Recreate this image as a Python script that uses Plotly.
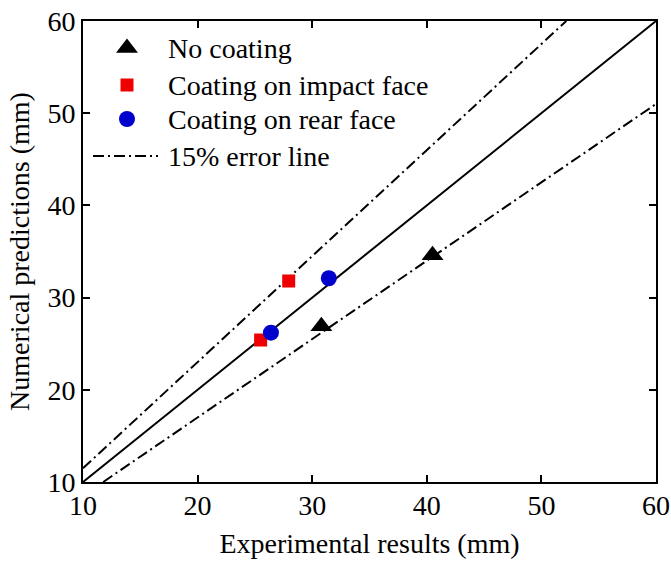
import plotly.graph_objects as go

# Data (mm)
no_coating_x = [30.8, 40.5]
no_coating_y = [26.9, 34.6]
impact_x = [25.5, 27.95]
impact_y = [25.4, 31.8]
rear_x = [26.4, 31.45]
rear_y = [26.2, 32.1]

axis_range = [10, 60]
error_ratio = 0.15
tick_vals = [10, 20, 30, 40, 50, 60]

legend_labels = ["No coating", "Coating on impact face", "Coating on rear face", "15% error line"]

FONT = "Liberation Serif, Times New Roman, serif"
DASH = "11px,4px,2px,4px"
W, H = 671, 568
L, R, T, B = 83, 15, 21, 86

fig = go.Figure()

# reference line y = x
fig.add_trace(go.Scatter(x=axis_range, y=axis_range, mode="lines",
                         line=dict(color="black", width=2), showlegend=False))

# upper / lower 15% lines
up_x = [axis_range[0], axis_range[1] / (1 + error_ratio)]
fig.add_trace(go.Scatter(x=up_x, y=[v * (1 + error_ratio) for v in up_x], mode="lines",
                         line=dict(color="black", width=2, dash=DASH), showlegend=False))
lo_x = [axis_range[0] / (1 - error_ratio), axis_range[1]]
fig.add_trace(go.Scatter(x=lo_x, y=[v * (1 - error_ratio) for v in lo_x], mode="lines",
                         line=dict(color="black", width=2, dash=DASH), showlegend=False))

tri = dict(symbol="triangle-up", size=19, color="black")
sq = dict(symbol="square", size=13, color="#ee0000")
circ = dict(symbol="circle", size=16, color="#0000cc")

fig.add_trace(go.Scatter(x=no_coating_x, y=no_coating_y, mode="markers", marker=tri, showlegend=False))
fig.add_trace(go.Scatter(x=impact_x, y=impact_y, mode="markers", marker=sq, showlegend=False))
fig.add_trace(go.Scatter(x=rear_x, y=rear_y, mode="markers", marker=circ, showlegend=False))

# ---- custom legend drawn on an overlay axis in pixel units ----
leg_rows_y = [48, 85, 119, 156]
sym_x = 127
text_x = 166
for marker, yy in zip([tri, sq, circ], leg_rows_y[:3]):
    fig.add_trace(go.Scatter(x=[sym_x], y=[yy], xaxis="x2", yaxis="y2", mode="markers",
                             marker=marker, showlegend=False, hoverinfo="skip"))
fig.add_trace(go.Scatter(x=[93, 158], y=[leg_rows_y[3]] * 2, xaxis="x2", yaxis="y2", mode="lines",
                         line=dict(color="black", width=2, dash=DASH), showlegend=False,
                         hoverinfo="skip"))
for lab, yy in zip(legend_labels, leg_rows_y):
    fig.add_annotation(x=text_x, y=yy, xref="x2", yref="y2", text=lab, showarrow=False,
                       xanchor="left", yanchor="middle",
                       font=dict(family=FONT, size=28, color="black"))

axis_common = dict(
    range=axis_range, tickvals=tick_vals, ticks="inside", ticklen=7, tickwidth=2,
    tickcolor="black", showline=True, linecolor="black", linewidth=2, mirror="ticks",
    showgrid=False, zeroline=False, automargin=False,
    tickfont=dict(family=FONT, size=28, color="black"),
)

fig.update_layout(
    width=W, height=H,
    margin=dict(l=L, r=R, t=T, b=B),
    paper_bgcolor="white", plot_bgcolor="white",
    font=dict(family=FONT, size=28, color="black"),
    xaxis=dict(**axis_common, ticklabelstandoff=-3,
               title=dict(text="Experimental results (mm)",
                          font=dict(family=FONT, size=28), standoff=14)),
    yaxis=dict(**axis_common, title=dict(text="Numerical predictions (mm)",
                                         font=dict(family=FONT, size=28), standoff=10)),
    xaxis2=dict(range=[L, W - R], overlaying="x", visible=False, fixedrange=True),
    yaxis2=dict(range=[H - B, T], overlaying="y", visible=False, fixedrange=True),
    showlegend=False,
)

fig.write_html("out.html")
